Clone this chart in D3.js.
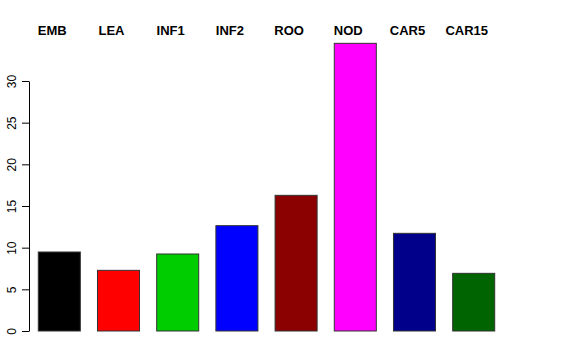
<!DOCTYPE html>
<html>
<head>
<meta charset="utf-8">
<script src="https://cdn.jsdelivr.net/npm/d3@7"></script>
<style>
html,body{margin:0;padding:0;background:#fff;}
svg{display:block;}
text{font-family:"Liberation Sans",Arial,Helvetica,sans-serif;}
</style>
</head>
<body>
<svg id="chart" width="576" height="360"></svg>
<script>
const categories = ["EMB","LEA","INF1","INF2","ROO","NOD","CAR5","CAR15"];
const values = [9.48, 7.28, 9.24, 12.64, 16.28, 34.52, 11.72, 6.92];
const colors = ["#000000","#FF0000","#00CD00","#0000FF","#8B0000","#FF00FF","#00008B","#006400"];
const yTicks = [0,5,10,15,20,25,30];

const svg = d3.select("#chart");
const x = d3.scaleBand().domain(categories).range([20, 513]).paddingInner(0.29).paddingOuter(0.309);
const y = d3.scaleLinear().domain([0,30]).range([331, 81]);

svg.selectAll("rect.bar").data(categories).enter().append("rect")
  .attr("class","bar")
  .attr("x", d => x(d))
  .attr("width", x.bandwidth())
  .attr("y", (d,i) => y(values[i]))
  .attr("height", (d,i) => y(0) - y(values[i]))
  .attr("fill", (d,i) => colors[i])
  .attr("stroke", "#333")
  .attr("stroke-width", 1);

const axis = d3.axisLeft(y).tickValues(yTicks).tickSize(7).tickSizeOuter(0).tickFormat(d3.format("d"));
const g = svg.append("g").attr("transform","translate(29,0)").call(axis);
g.select(".domain").attr("stroke","#000");
g.selectAll(".tick line").attr("stroke","#000");
g.selectAll(".tick text")
  .attr("font-size", 12)
  .attr("font-family", "Liberation Sans, Arial, sans-serif")
  .attr("fill","#000")
  .attr("text-anchor","middle")
  .attr("x", null).attr("dy", null)
  .attr("transform", "translate(-13,0) rotate(-90)")
  .attr("y", 0);

svg.selectAll("text.lab").data(categories).enter().append("text")
  .attr("class","lab")
  .attr("x", d => x(d) + x.bandwidth()/2 - 7)
  .attr("y", 35)
  .attr("text-anchor","middle")
  .attr("font-size", 13)
  .attr("font-weight","bold")
  .text(d => d);
</script>
</body>
</html>
